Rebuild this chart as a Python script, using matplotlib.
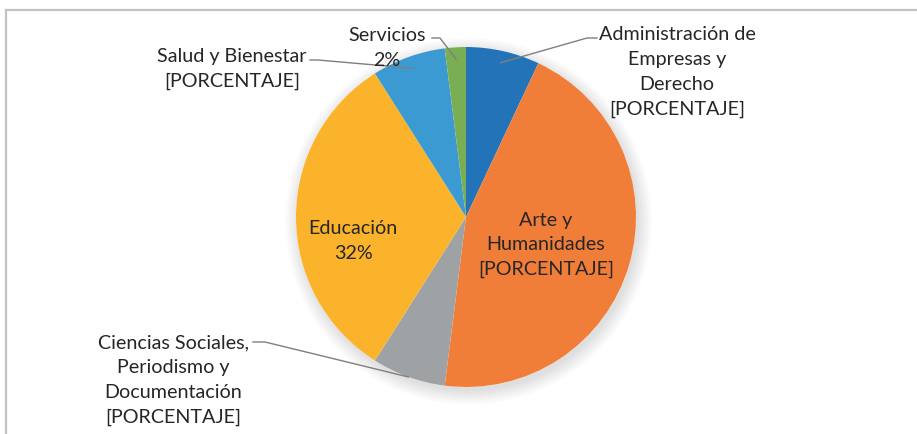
import numpy as np
import matplotlib
matplotlib.use("Agg")
import matplotlib.pyplot as plt
from matplotlib.lines import Line2D
from matplotlib.patches import Circle

# datos
areas = ["Administración de\nEmpresas y\nDerecho", "Arte y\nHumanidades",
         "Ciencias Sociales,\nPeriodismo y\nDocumentación", "Educación",
         "Salud y Bienestar", "Servicios"]
valores = [7, 45, 7, 32, 7, 2]
etiquetas_valor = ["[PORCENTAJE]", "[PORCENTAJE]", "[PORCENTAJE]", "32%", "[PORCENTAJE]", "2%"]
colores = ["#2373B9", "#F07E38", "#9EA2A5", "#FBB32C", "#3C9AD3", "#7AAE54"]

plt.rcParams['font.family'] = ['Lato', 'DejaVu Sans']
texto = "#262626"

fig = plt.figure(figsize=(9.17, 4.35), dpi=100)
ax = fig.add_axes([0, 0, 1, 1])
# 1 unidad = 170 px, centro en (466, 218) px
esc = 170.0

# sombra suave
for k in range(8):
    ax.add_patch(Circle((0.015, -0.025), 1.0 + k * 0.011, color="black",
                        alpha=0.014, lw=0, zorder=0))
ax.add_patch(Circle((0, 0), 1.0, color="white", lw=0, zorder=0.5))

cuñas, _ = ax.pie(valores, colors=colores, startangle=90, counterclock=False,
                  radius=1.0, center=(0, 0), frame=True,
                  wedgeprops=dict(linewidth=0, zorder=1))
ax.set_xlim(-466 / esc, (917 - 466) / esc)
ax.set_ylim(-(435 - 218) / esc, 218 / esc)
ax.set_aspect("equal")
ax.axis("off")

def p(px, py):
    return ((px - 466) / esc, (218 - py) / esc)

def medio(w, r):
    a = np.deg2rad((w.theta1 + w.theta2) / 2)
    return (r * np.cos(a), r * np.sin(a))

# posiciones de textos (px) y codos de las guias
pos_txt = [p(677, 72), p(546, 245), p(173, 380), p(353, 241), p(232, 69), p(387, 48)]
guias = {
    0: [p(597, 39), p(587, 39)],
    2: [p(253, 343), p(265, 343)],
    4: [p(310, 61), p(318, 61)],
    5: [p(432, 39), p(440, 39)],
}
radio_guia = {0: 0.93, 2: 1.0, 4: 0.93, 5: 0.93}

for i, (nombre, val) in enumerate(zip(areas, etiquetas_valor)):
    x, y = pos_txt[i]
    ax.text(x, y, nombre + "\n" + val, ha="center", va="center", fontsize=14.2,
            color=texto, linespacing=1.55, zorder=5)
    if i in guias:
        pts = guias[i] + [medio(cuñas[i], radio_guia[i])]
        xs = [q[0] for q in pts]
        ys = [q[1] for q in pts]
        ax.plot(xs, ys, color="#7F7F7F", lw=1.0, zorder=4)

# marco
borde = "#BFC3C6"
fig.add_artist(Line2D([6 / 917, 1], [1 - 10.5 / 435, 1 - 10.5 / 435], color=borde, lw=1.6))
fig.add_artist(Line2D([6 / 917, 6 / 917], [0, 1 - 10.5 / 435], color=borde, lw=1.6))

fig.savefig("out.png", dpi=100)
